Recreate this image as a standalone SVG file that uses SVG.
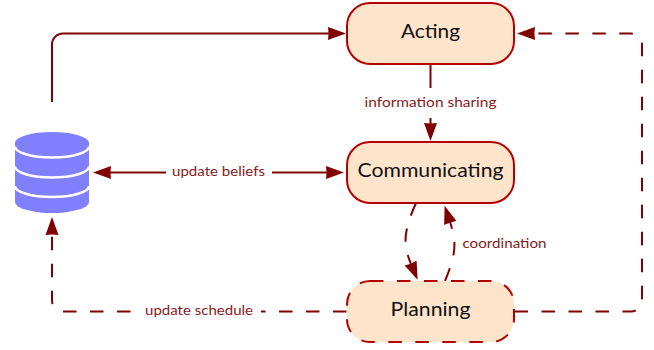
<svg xmlns="http://www.w3.org/2000/svg" width="654" height="350" viewBox="0 0 654 350">
<style>
.c{fill:none;stroke:#800000;stroke-width:2}
.d{stroke-dasharray:13.5 13.5}
.n{fill:#ffe4cc;stroke:#b30000;stroke-width:2}
.t{font-family:Lato,"Liberation Sans",sans-serif;font-size:20px;fill:#111;text-anchor:middle}
.l{font-family:Lato,"Liberation Sans",sans-serif;font-size:13px;fill:#8a1a1a;text-anchor:middle}
.b{fill:#fff}
</style>
<defs>
<marker id="a" markerUnits="userSpaceOnUse" markerWidth="20" markerHeight="16" refX="1" refY="8" orient="auto-start-reverse" viewBox="0 0 20 16">
<path d="M0,1.500L0.600,8L0,14.500L18,8Z" fill="#800000"/>
</marker>
</defs>
<g id="connectors">
<path class="c" d="M52,102V45A11,11 0 0 1 63,33.500H329" marker-end="url(#a)"/>
<path class="c" d="M430.500,64V124" marker-end="url(#a)"/>
<path class="c" d="M110,172.500H327" marker-start="url(#a)" marker-end="url(#a)"/>
<path class="c d" d="M514.500,311.500H631A11,11 0 0 0 642,300.500V44.500A11,11 0 0 0 631,33.500H534" marker-end="url(#a)"/>
<path class="c d" d="M346.500,311.500H63A11,11 0 0 1 52,300.500V234" marker-end="url(#a)"/>
<path class="c d" d="M416,203C403,232 403,245 411,264" marker-end="url(#a)"/>
<path class="c d" d="M445,281C456,254 457,243 450,222" marker-end="url(#a)"/>
<g id="label-info"><rect class="b" x="360" y="88" width="141" height="30"/><text class="l" x="430.500" y="107" textLength="132" lengthAdjust="spacingAndGlyphs">information sharing</text></g>
<g id="label-beliefs"><rect class="b" x="166" y="160" width="106" height="26"/><text class="l" x="218.500" y="176" textLength="93" lengthAdjust="spacingAndGlyphs">update beliefs</text></g>
<g id="label-schedule"><rect class="b" x="137" y="300" width="124" height="24"/><text class="l" x="199" y="315" textLength="108" lengthAdjust="spacingAndGlyphs">update schedule</text></g>
<g id="label-coord"><text class="l" x="504.500" y="248" textLength="84" lengthAdjust="spacingAndGlyphs">coordination</text></g>
</g>
<g id="database">
<path d="M15,143V202A37,11 0 0 0 89,202V143A37,11 0 0 0 15,143Z" fill="#8080ff"/>
<path d="M15,146.500A37,11 0 0 0 89,146.500M15,166.500A37,11 0 0 0 89,166.500M15,186A37,11 0 0 0 89,186" fill="none" stroke="#fff" stroke-width="2.500"/>
</g>
<g id="acting"><rect class="n" x="347" y="3" width="167" height="61" rx="23"/><text class="t" x="430.500" y="38" textLength="59" lengthAdjust="spacingAndGlyphs">Acting</text></g>
<g id="communicating"><rect class="n" x="347" y="142" width="167" height="61" rx="23"/><text class="t" x="430.500" y="177" textLength="146" lengthAdjust="spacingAndGlyphs">Communicating</text></g>
<g id="planning"><rect class="n d" x="347" y="281" width="167" height="61" rx="23"/><text class="t" x="430.500" y="316" textLength="80" lengthAdjust="spacingAndGlyphs">Planning</text></g>
</svg>
